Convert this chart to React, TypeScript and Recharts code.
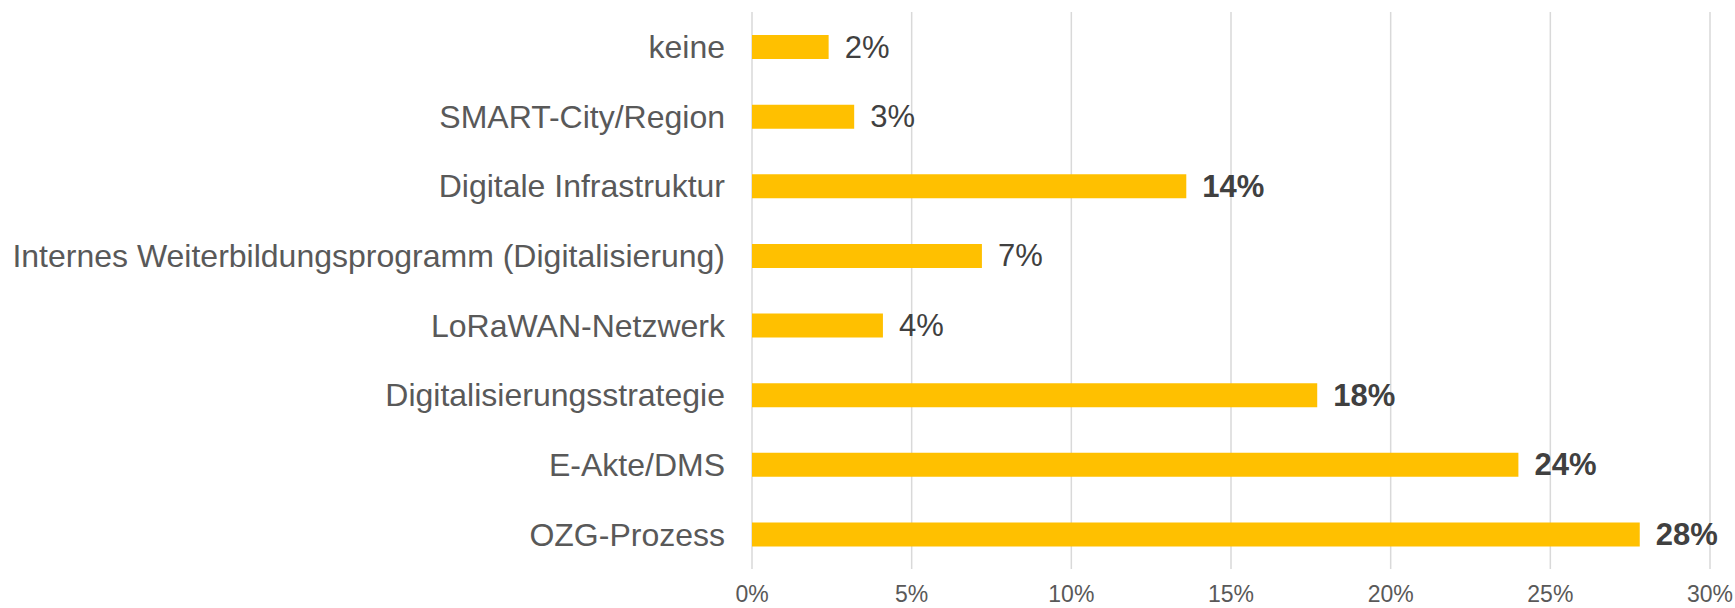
import { BarChart, Bar, XAxis, YAxis, CartesianGrid, LabelList } from "recharts";

const categories = [
  "keine",
  "SMART-City/Region",
  "Digitale Infrastruktur",
  "Internes Weiterbildungsprogramm (Digitalisierung)",
  "LoRaWAN-Netzwerk",
  "Digitalisierungsstrategie",
  "E-Akte/DMS",
  "OZG-Prozess",
];
const shares = [2.4, 3.2, 13.6, 7.2, 4.1, 17.7, 24.0, 27.8];
const xTicks = [0, 5, 10, 15, 20, 25, 30];

const FONT = "'Liberation Sans', Arial, sans-serif";

const data = categories.map((name, i) => ({ name, value: shares[i] }));

function ValueLabel(props: any) {
  const { x, y, width, height, value } = props;
  const big = value >= 10;
  return (
    <text
      x={x + width + 16}
      y={y + height / 2}
      dominantBaseline="central"
      fill="#404040"
      fontSize={31}
      fontWeight={big ? 700 : 400}
      fontFamily={FONT}
    >
      {Math.round(value)}%
    </text>
  );
}

export default function App() {
  return (
    <div style={{ position: "absolute", left: 0, top: 0, background: "#fff" }}>
      <BarChart
        width={1735}
        height={608}
        data={data}
        layout="vertical"
        margin={{ top: 12, right: 25, bottom: 0, left: 0 }}
        barCategoryGap={0}
      >
        <CartesianGrid horizontal={false} stroke="#D9D9D9" strokeWidth={1.5} />
        <XAxis
          type="number"
          domain={[0, 30]}
          ticks={xTicks}
          tickFormatter={(v) => `${v}%`}
          axisLine={false}
          tickLine={false}
          tickSize={0}
          tickMargin={17}
          height={39}
          tick={{ fill: "#595959", fontSize: 23, fontFamily: FONT }}
        />
        <YAxis
          type="category"
          dataKey="name"
          width={752}
          axisLine={false}
          tickLine={false}
          tickSize={0}
          tickMargin={27}
          interval={0}
          tick={{ fill: "#595959", fontSize: 32, fontFamily: FONT }}
        />
        <Bar dataKey="value" fill="#FFC000" barSize={24} isAnimationActive={false}>
          <LabelList dataKey="value" content={ValueLabel} />
        </Bar>
      </BarChart>
    </div>
  );
}
